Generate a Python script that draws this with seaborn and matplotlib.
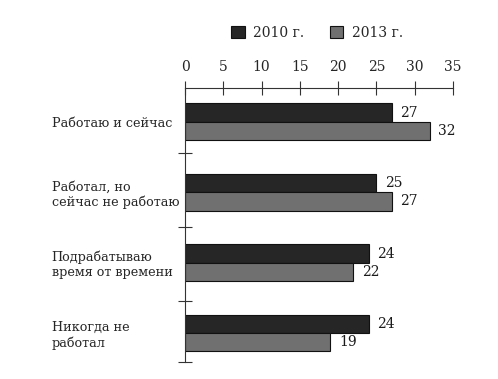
import matplotlib
matplotlib.use("Agg")
import matplotlib.pyplot as plt
import seaborn as sns
import pandas as pd
import numpy as np

categories = ["Работаю и сейчас", "Работал, но\nсейчас не работаю",
              "Подрабатываю\nвремя от времени", "Никогда не\nработал"]
series = ["2010 г.", "2013 г."]
values_2010 = [27, 25, 24, 24]
values_2013 = [32, 27, 22, 19]
x_ticks = [0, 5, 10, 15, 20, 25, 30, 35]

df = pd.DataFrame({
    "cat": categories * 2,
    "year": [series[0]] * 4 + [series[1]] * 4,
    "val": values_2010 + values_2013,
})

sns.set_theme(style="white")
plt.rcParams["font.family"] = ["DejaVu Serif"]

fig = plt.figure(figsize=(4.98, 3.79), dpi=100)
ax = fig.add_axes([185/498, 1-362/379, (453-185)/498, (362-88)/379])

palette = {series[0]: "#262626", series[1]: "#707070"}
sns.barplot(data=df, y="cat", x="val", hue="year", palette=palette,
            orient="h", width=0.52, ax=ax, edgecolor="#111111", linewidth=0.8,
            saturation=1, legend=True)

for c in ax.containers:
    ax.bar_label(c, padding=6, fontsize=10, color="#1a1a1a")

ax.set_xlim(0, 35)
ax.set_ylim(3.41, -0.48)
ax.set_xlabel("")
ax.set_ylabel("")
ax.xaxis.tick_top()
ax.set_xticks(x_ticks)
ax.set_xticklabels([str(t) for t in x_ticks], fontsize=10)
ax.tick_params(axis="x", which="major", direction="inout", length=10, width=0.8,
               color="#333333", pad=5, top=True, bottom=False)

ax.set_yticks(range(len(categories)))
ax.set_yticklabels(categories, fontsize=9.2, ha="left", multialignment="left")
ax.tick_params(axis="y", which="major", length=0, pad=96)
ax.set_yticks([0.44, 1.49, 2.54, 3.41], minor=True)
ax.tick_params(axis="y", which="minor", direction="inout", length=10, width=0.8,
               color="#333333", left=True)

for s in ["right", "bottom"]:
    ax.spines[s].set_visible(False)
for s in ["top", "left"]:
    ax.spines[s].set_color("#333333")
    ax.spines[s].set_linewidth(0.8)

handles, labels = ax.get_legend_handles_labels()
ax.get_legend().remove()
leg = fig.legend(handles, labels, loc="center", bbox_to_anchor=(317/498, 1-33/379),
                 ncol=2, frameon=False, fontsize=10, handlelength=1.0,
                 handleheight=1.0, columnspacing=1.8, handletextpad=0.6)
for h in leg.legend_handles:
    h.set_edgecolor("#111111")

fig.savefig("out.png", dpi=100, facecolor="white")
